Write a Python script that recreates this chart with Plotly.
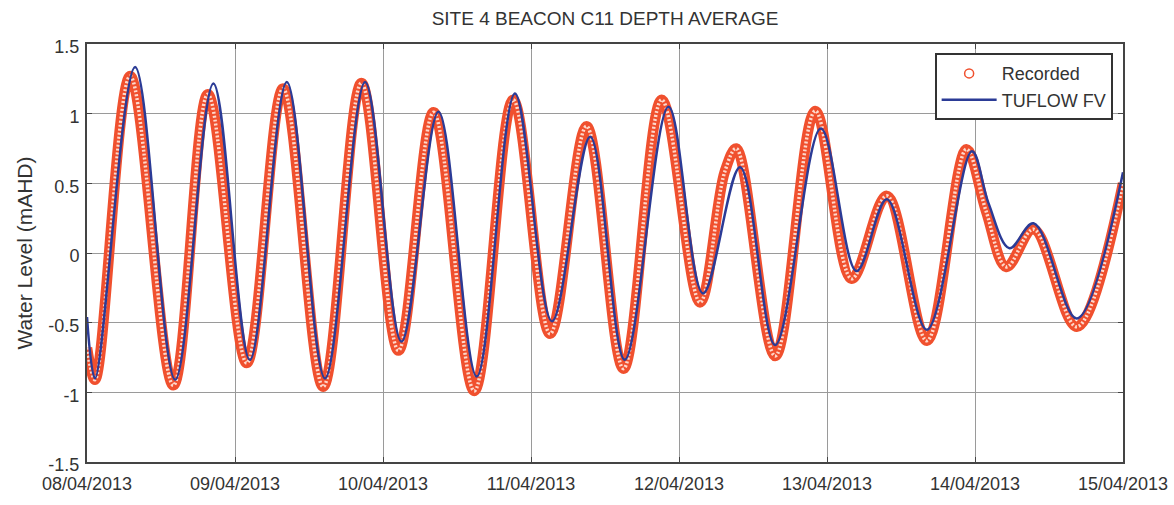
import pandas as pd
import plotly.graph_objects as go

# ---- data (hours after 08/04/2013 00:00, water level in mAHD) ----
base_date = "2013-04-08"

rec_hours = [0.0, 1.3, 7.0, 14.0, 19.6, 25.9, 31.8, 38.3, 44.5, 50.5, 56.2, 62.8,
             69.1, 75.1, 81.0, 87.0, 93.2, 99.4, 103.4, 105.3, 111.6, 118.1,
             124.0, 129.7, 136.2, 142.6, 145.8, 149.1, 153.5, 160.5, 168.0]
rec_level = [-0.68, -0.91, 1.27, -0.95, 1.14, -0.79, 1.18, -0.96, 1.22, -0.70, 1.01, -0.99,
             1.10, -0.58, 0.91, -0.83, 1.10, -0.355, 0.58, 0.75, -0.74, 1.02,
             -0.185, 0.41, -0.63, 0.745, 0.30, -0.10, 0.17, -0.53, 0.50]

fv_hours = [0.0, 1.3, 7.8, 14.3, 20.5, 26.4, 32.4, 38.6, 45.1, 51.0, 57.0, 63.2,
            69.4, 75.4, 81.6, 87.2, 94.3, 99.9, 105.9, 111.6, 119.0, 124.8,
            129.7, 136.2, 143.5, 146.2, 149.6, 153.5, 160.5, 168.0]
fv_level = [-0.46, -0.90, 1.335, -0.91, 1.216, -0.767, 1.228, -0.90, 1.228, -0.636, 1.013, -0.887,
            1.145, -0.49, 0.834, -0.767, 1.05, -0.29, 0.615, -0.66, 0.894, -0.13,
            0.385, -0.55, 0.73, 0.356, 0.034, 0.213, -0.47, 0.58]

y_ticks = [-1.5, -1, -0.5, 0, 0.5, 1, 1.5]
y_tick_text = ["-1.5", "-1", "-0.5", "0", "0.5", "1", "1.5"]

title_text = "SITE 4 BEACON C11 DEPTH AVERAGE"
y_title = "Water Level (mAHD)"
names = ["Recorded", "TUFLOW FV"]

# ---- build ----
t0 = pd.Timestamp(base_date)
rec_x = t0 + pd.to_timedelta(rec_hours, unit="h")
fv_x = t0 + pd.to_timedelta(fv_hours, unit="h")

RED = "#f0502e"
BLUE = "#2b3b96"
TXT = "#333333"
FONT = "Liberation Sans, Arial, sans-serif"

fig = go.Figure()

# recorded band (dense open circles look)
fig.add_trace(go.Scatter(x=rec_x, y=rec_level, mode="lines", showlegend=False,
                         line=dict(color=RED, width=10.5, shape="spline", smoothing=1.0),
                         hoverinfo="skip"))
fig.add_trace(go.Scatter(x=rec_x, y=rec_level, mode="lines", showlegend=False,
                         line=dict(color="rgba(255,232,222,0.9)", width=3.5, shape="spline",
                                   smoothing=1.0, dash="2px,2px"),
                         hoverinfo="skip"))
# legend entry for recorded
fig.add_trace(go.Scatter(x=[None], y=[None], mode="markers", name=names[0],
                         marker=dict(symbol="circle-open", color=RED, size=9,
                                     line=dict(width=1.5, color=RED))))
# model line
fig.add_trace(go.Scatter(x=fv_x, y=fv_level, mode="lines", name=names[1],
                         line=dict(color=BLUE, width=2.5, shape="spline", smoothing=1.0)))

axis_common = dict(showline=True, linecolor="#444444", linewidth=2, mirror="ticks",
                   ticks="inside", ticklen=5, tickcolor="#444444", tickwidth=1,
                   showgrid=True, gridcolor="#9a9a9a", gridwidth=1, zeroline=False,
                   automargin=False,
                   tickfont=dict(family=FONT, size=18, color=TXT))

fig.update_xaxes(type="date", range=[t0, t0 + pd.Timedelta(days=7)],
                 dtick=86400000, tick0=t0, tickformat="%d/%m/%Y",
                 ticklabelstandoff=4, **axis_common)
fig.update_yaxes(range=[-1.5, 1.5], tickmode="array", tickvals=y_ticks, ticktext=y_tick_text,
                 ticklabelstandoff=2, ticklabelshift=3,
                 title=dict(text=y_title, font=dict(family=FONT, size=21, color=TXT), standoff=10),
                 **axis_common)

fig.update_layout(
    width=1174, height=505,
    margin=dict(l=87, r=51, t=44, b=43),
    paper_bgcolor="white", plot_bgcolor="white",
    title=dict(text=title_text, x=0.5, xref="paper", xanchor="center",
               y=1 - 18 / 505, yref="container", yanchor="middle",
               font=dict(family=FONT, size=19, color=TXT)),
    legend=dict(x=0.99, y=0.978, xanchor="right", yanchor="top",
                bgcolor="white", bordercolor="#333333", borderwidth=2,
                font=dict(family=FONT, size=18, color=TXT), itemwidth=55),
    showlegend=True,
)

fig.write_html("out.html")
